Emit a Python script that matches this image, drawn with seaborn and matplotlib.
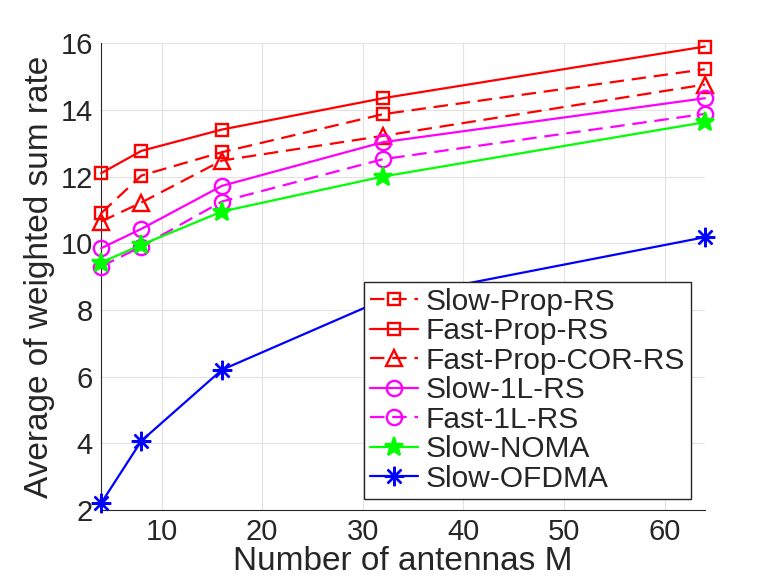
import pandas as pd
import seaborn as sns
import matplotlib.pyplot as plt

antennas = [4, 8, 16, 32, 64]

slow_prop_rs = [10.9, 12.03, 12.73, 13.87, 15.22]
fast_prop_rs = [12.1, 12.77, 13.41, 14.35, 15.9]
fast_prop_cor_rs = [10.65, 11.22, 12.48, 13.22, 14.76]
slow_1l_rs = [9.85, 10.43, 11.72, 13.03, 14.35]
fast_1l_rs = [9.3, 9.9, 11.25, 12.52, 13.88]
slow_noma = [9.42, 9.95, 10.95, 12.0, 13.63]
slow_ofdma = [2.2, 4.07, 6.2, 8.3, 10.18]

names = ["Slow-Prop-RS", "Fast-Prop-RS", "Fast-Prop-COR-RS",
         "Slow-1L-RS", "Fast-1L-RS", "Slow-NOMA", "Slow-OFDMA"]
values = [slow_prop_rs, fast_prop_rs, fast_prop_cor_rs,
          slow_1l_rs, fast_1l_rs, slow_noma, slow_ofdma]

# color, dashed?, marker, filled?, marker size
styles = {
    "Slow-Prop-RS": ("#ff0000", True, "s", False, 9),
    "Fast-Prop-RS": ("#ff0000", False, "s", False, 9),
    "Fast-Prop-COR-RS": ("#ff0000", True, "^", False, 11),
    "Slow-1L-RS": ("#ff00ff", False, "o", False, 11),
    "Fast-1L-RS": ("#ff00ff", True, "o", False, 11),
    "Slow-NOMA": ("#00ff00", False, "*", True, 14),
    "Slow-OFDMA": ("#0000ff", False, (8, 2, 0), True, 14),
}

sns.set_style("whitegrid", {"grid.color": "#e3e3e3", "axes.edgecolor": "#262626"})
plt.rcParams["font.family"] = ["Liberation Sans", "DejaVu Sans"]

fig = plt.figure(figsize=(7.78, 5.84), dpi=100)
ax = fig.add_axes([0.13, 0.127, 0.776, 0.799])

for name, vals in zip(names, values):
    color, dashed, marker, filled, ms = styles[name]
    df = pd.DataFrame({"M": antennas, "rate": vals})
    sns.lineplot(
        data=df, x="M", y="rate", ax=ax, color=color, label=name,
        marker=marker, markersize=ms, linewidth=1.6,
        markerfacecolor=color if filled else "none",
        markeredgecolor=color, markeredgewidth=1.7,
        estimator=None, clip_on=False, zorder=3
    )
    if dashed:
        ax.lines[-1].set_dashes((6.5, 3.5))

ax.set_xlim(4, 64)
ax.set_ylim(2, 16)
ax.set_xticks([10, 20, 30, 40, 50, 60])
ax.set_yticks([2, 4, 6, 8, 10, 12, 14, 16])
ax.set_xlabel("Number of antennas M", fontsize=24, color="#262626", labelpad=0)
ax.set_ylabel("Average of weighted sum rate", fontsize=24, color="#262626", labelpad=4)
ax.tick_params(axis="both", labelsize=21, direction="in", length=6,
               width=1, colors="#262626", pad=6)
ax.spines["top"].set_visible(False)
ax.spines["right"].set_visible(False)

leg = ax.legend(loc="lower right", bbox_to_anchor=(0.977, 0.024), fontsize=21.5,
                frameon=True, fancybox=False, framealpha=1, edgecolor="#262626",
                handlelength=1.6, handletextpad=0.25, labelspacing=0.05,
                borderpad=0.2, borderaxespad=0)
leg.get_frame().set_linewidth(1)
leg.set_zorder(5)

fig.savefig("out.png", dpi=100)
